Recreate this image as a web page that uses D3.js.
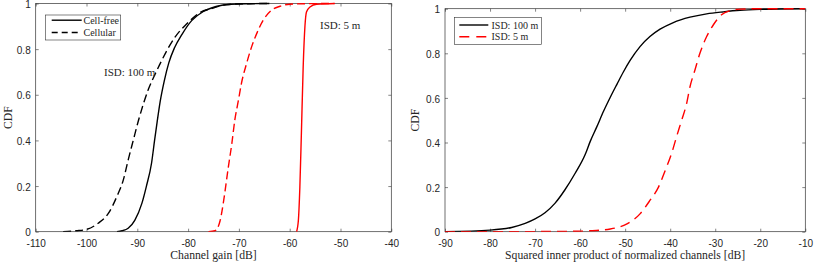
<!DOCTYPE html>
<html>
<head>
<meta charset="utf-8">
<script src="https://cdn.jsdelivr.net/npm/d3@7"></script>
<style>
  html, body { margin: 0; padding: 0; background: #fff; }
  svg { display: block; }
  .tick text { font-family: "Liberation Sans", Arial, sans-serif; font-size: 10px; fill: #262626; }
  .lbl { font-family: "Liberation Serif", "Times New Roman", serif; fill: #262626; }
</style>
</head>
<body>
<svg id="chart" width="814" height="266"></svg>
<script>
// ---------------- data ----------------
// Left panel: channel gain CDFs
const leftXTicks = [-110, -100, -90, -80, -70, -60, -50, -40];
const yTicks = [0, 0.2, 0.4, 0.6, 0.8, 1];

const cf100X = [-94.0, -93.0, -91.8, -90.5, -89.1, -88.2, -87.2, -86.6, -86.1, -85.5, -84.7, -83.8, -82.7, -81.2, -79.3, -77.0, -74.5, -71.5, -68.0, -64.0];
const cf100Y = [0, 0.004, 0.015, 0.05, 0.124, 0.2, 0.30, 0.40, 0.48, 0.57, 0.66, 0.74, 0.805, 0.865, 0.925, 0.965, 0.987, 0.997, 0.999, 1];

const cell100X = [-104.6, -102.0, -100.0, -97.7, -95.7, -94.05, -92.75, -91.8, -90.8, -89.8, -88.8, -87.8, -86.5, -85.2, -83.9, -82.5, -80.3, -77.7, -75.1, -72.4, -69.0, -64.0];
const cell100Y = [0, 0.004, 0.01, 0.037, 0.08, 0.153, 0.227, 0.314, 0.40, 0.485, 0.56, 0.625, 0.69, 0.75, 0.805, 0.855, 0.91, 0.96, 0.98, 0.995, 0.999, 1];

const cell5X = [-76.0, -74.7, -73.7, -73.0, -72.1, -71.4, -70.8, -70.1, -69.5, -68.5, -67.5, -66.5, -65.2, -63.6, -61.9, -60.0, -57.0, -51.4];
const cell5Y = [0, 0.004, 0.048, 0.136, 0.28, 0.385, 0.49, 0.575, 0.65, 0.736, 0.81, 0.868, 0.927, 0.97, 0.988, 0.997, 0.999, 1];

const cf5X = [-58.65, -58.3, -58.0, -57.7, -57.35, -57.0, -56.7, -56.0, -54.7, -51.1];
const cf5Y = [0, 0.048, 0.195, 0.43, 0.72, 0.9, 0.963, 0.985, 0.997, 1];

// Right panel: squared inner product CDFs
const rightXTicks = [-90, -80, -70, -60, -50, -40, -30, -20, -10];

const ip100X = [-90, -80, -75.2, -72.2, -70, -67.8, -65.6, -63.4, -61.1, -58.9, -57.75, -56.3, -54.8, -53.3, -51.8, -50.4, -48.9, -46.7, -44.5, -42.25, -39.3, -35.6, -31.9, -28.2, -24.5, -20, -10];
const ip100Y = [0, 0.007, 0.019, 0.037, 0.057, 0.085, 0.127, 0.187, 0.262, 0.345, 0.405, 0.47, 0.54, 0.603, 0.662, 0.716, 0.768, 0.83, 0.875, 0.908, 0.938, 0.962, 0.977, 0.986, 0.993, 0.997, 1];

const ip5X = [-90, -70, -61.5, -57.75, -53.3, -49.6, -46.7, -44.5, -42.6, -41.1, -39.7, -38.6, -37.45, -36.35, -35.6, -34.5, -33.4, -31.9, -30.4, -28.6, -26.75, -24.5, -20, -10];
const ip5Y = [0, 0.0005, 0.002, 0.004, 0.012, 0.035, 0.08, 0.14, 0.2, 0.275, 0.35, 0.425, 0.5, 0.575, 0.65, 0.725, 0.8, 0.875, 0.928, 0.973, 0.991, 0.998, 1, 1];

const leftLegend = ["Cell-free", "Cellular"];
const rightLegend = ["ISD: 100 m", "ISD: 5 m"];
const leftXLabel = "Channel gain [dB]";
const rightXLabel = "Squared inner product of normalized channels [dB]";
const yLabel = "CDF";

// ---------------- drawing ----------------
const svg = d3.select("#chart");
const AX = "#333333";

function zip(xs, ys) { return xs.map((x, i) => [x, ys[i]]); }
function fmtY(d) { return d === 0 ? "0" : d === 1 ? "1" : d.toFixed(1); }

function panel(cfg) {
  const x = d3.scaleLinear().domain(cfg.xDomain).range([cfg.x0, cfg.x1]);
  const y = d3.scaleLinear().domain([0, 1]).range([cfg.yB, cfg.yT]);
  const g = svg.append("g");

  const clipId = "clip" + cfg.id;
  svg.append("clipPath").attr("id", clipId).append("rect")
    .attr("x", cfg.x0).attr("y", cfg.yT - 2).attr("width", cfg.x1 - cfg.x0).attr("height", cfg.yB - cfg.yT + 2);

  // axes
  const bottom = g.append("g").attr("transform", `translate(0,${cfg.yB})`)
    .call(d3.axisBottom(x).tickValues(cfg.xTicks).tickFormat(d => String(d)).tickSizeInner(-3).tickSizeOuter(0).tickPadding(8));
  const top = g.append("g").attr("transform", `translate(0,${cfg.yT})`)
    .call(d3.axisTop(x).tickValues(cfg.xTicks).tickFormat("").tickSizeInner(-3).tickSizeOuter(0));
  const left = g.append("g").attr("transform", `translate(${cfg.x0},0)`)
    .call(d3.axisLeft(y).tickValues(yTicks).tickFormat(fmtY).tickSizeInner(-3).tickSizeOuter(0).tickPadding(5));
  left.selectAll(".tick text").attr("dy", "0.42em");
  const right = g.append("g").attr("transform", `translate(${cfg.x1},0)`)
    .call(d3.axisRight(y).tickValues(yTicks).tickFormat("").tickSizeInner(-3).tickSizeOuter(0));
  [bottom, top, left, right].forEach(a => {
    a.select(".domain").remove();
    a.selectAll(".tick line").attr("stroke", AX).attr("stroke-width", 0.6);
  });
  g.append("rect").attr("x", cfg.x0).attr("y", cfg.yT).attr("width", cfg.x1 - cfg.x0).attr("height", cfg.yB - cfg.yT)
    .attr("fill", "none").attr("stroke", AX).attr("stroke-width", 0.7);

  // curves
  const line = d3.line().x(d => x(d[0])).y(d => y(d[1])).curve(d3.curveMonotoneX);
  cfg.series.forEach(s => {
    g.append("path").datum(zip(s.xs, s.ys)).attr("d", line)
      .attr("clip-path", `url(#${clipId})`)
      .attr("fill", "none").attr("stroke", s.color).attr("stroke-width", 1.4)
      .attr("stroke-dasharray", s.dash || null).attr("stroke-linejoin", "round");
  });

  // axis labels
  g.append("text").attr("class", "lbl").attr("x", (cfg.x0 + cfg.x1) / 2).attr("y", 259)
    .attr("text-anchor", "middle").attr("font-size", 11.7).text(cfg.xLabel);
  g.append("text").attr("class", "lbl")
    .attr("transform", `translate(${cfg.yLabelX},${(cfg.yT + cfg.yB) / 2}) rotate(-90)`)
    .attr("text-anchor", "middle").attr("font-size", 11.7).text(yLabel);

  // legend
  const L = cfg.legend;
  g.append("rect").attr("x", L.x).attr("y", L.y).attr("width", L.w).attr("height", L.h)
    .attr("fill", "#fff").attr("stroke", AX).attr("stroke-width", 0.6);
  L.items.forEach((it, i) => {
    const ly = L.rows[i];
    g.append("line").attr("x1", L.lx0).attr("x2", L.lx1).attr("y1", ly).attr("y2", ly)
      .attr("stroke", it.color).attr("stroke-width", 1.4).attr("stroke-dasharray", it.dash || null);
    g.append("text").attr("class", "lbl").attr("x", L.tx).attr("y", ly + 3.5)
      .attr("font-size", 10).attr("fill", "#000").text(it.label);
  });

  (cfg.notes || []).forEach(n => {
    g.append("text").attr("class", "lbl").attr("x", n.x).attr("y", n.y)
      .attr("font-size", 11).text(n.text);
  });
}

panel({
  id: "L", x0: 35.7, x1: 391.3, yT: 3.5, yB: 231.7,
  xDomain: [-110, -40], xTicks: leftXTicks, xLabel: leftXLabel, yLabelX: 11.5,
  series: [
    { xs: cell100X, ys: cell100Y, color: "#000", dash: "8,4" },
    { xs: cf100X, ys: cf100Y, color: "#000" },
    { xs: cell5X, ys: cell5Y, color: "#ff0000", dash: "8,4" },
    { xs: cf5X, ys: cf5Y, color: "#ff0000" }
  ],
  legend: {
    x: 45.3, y: 15, w: 75.4, h: 25, lx0: 51.7, lx1: 81.7, tx: 83.5, rows: [20.2, 32.5],
    items: [
      { label: leftLegend[0], color: "#000" },
      { label: leftLegend[1], color: "#000", dash: "6,4" }
    ]
  },
  notes: [
    { text: "ISD: 100 m", x: 104, y: 75.5 },
    { text: "ISD: 5 m", x: 320, y: 29 }
  ]
});

panel({
  id: "R", x0: 445, x1: 805.3, yT: 8.7, yB: 231.7,
  xDomain: [-90, -10], xTicks: rightXTicks, xLabel: rightXLabel, yLabelX: 419,
  series: [
    { xs: ip100X, ys: ip100Y, color: "#000" },
    { xs: ip5X, ys: ip5Y, color: "#ff0000", dash: "10,6" }
  ],
  legend: {
    x: 454.5, y: 17.5, w: 86.8, h: 26.8, lx0: 459.3, lx1: 488.3, tx: 491.5, rows: [25, 36.7],
    items: [
      { label: rightLegend[0], color: "#000" },
      { label: rightLegend[1], color: "#ff0000", dash: "10,7" }
    ]
  }
});
</script>
</body>
</html>
